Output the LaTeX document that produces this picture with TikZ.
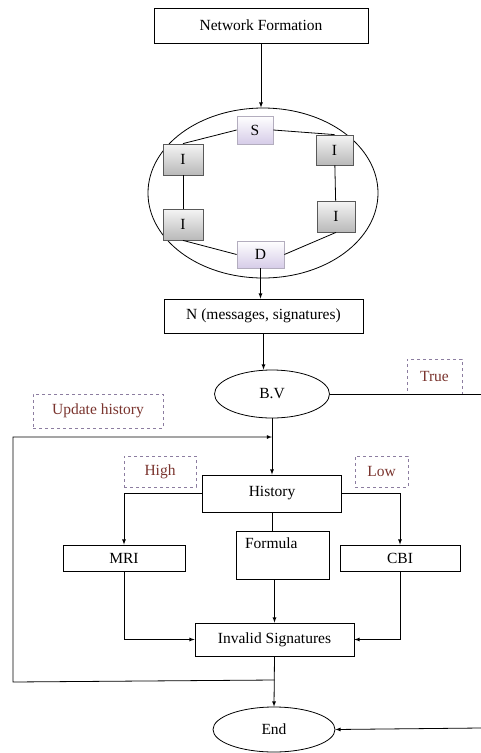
\documentclass[tikz,border=0pt]{standalone}
\usepackage{fontspec}
\setmainfont{Liberation Serif}
\usetikzlibrary{shapes.geometric}
\definecolor{notecol}{RGB}{122,52,46}
\definecolor{dashcol}{RGB}{140,125,160}
\definecolor{lavender}{RGB}{214,204,232}

\begin{document}
\begin{tikzpicture}[x=1pt,y=-1pt,line width=0.8pt,>=latex,
  font=\fontsize{15.5}{18}\selectfont,
  box/.style={draw,rectangle,inner sep=0pt},
  gbox/.style={draw,rectangle,inner sep=0pt,top color=gray!8,bottom color=gray!55,draw=gray!70!black},
  pbox/.style={draw,rectangle,inner sep=0pt,top color=white,bottom color=lavender,draw=lavender!60!gray},
  note/.style={draw=dashcol,dashed,rectangle,inner sep=0pt,text=notecol}]
\useasboundingbox (0,0) rectangle (481,753);
% top
\node[box,minimum width=214,minimum height=35] (net) at (261,25.5) {Network Formation};
\node[draw,ellipse,minimum width=230,minimum height=170] (cloud) at (263,193) {};
\node[pbox,minimum width=36,minimum height=28] (s) at (255,130) {S};
\node[gbox,minimum width=40,minimum height=31] (i1) at (183,159.5) {I};
\node[gbox,minimum width=37,minimum height=30] (i2) at (334.5,150) {I};
\node[gbox,minimum width=40,minimum height=31] (i3) at (183,224.5) {I};
\node[gbox,minimum width=38,minimum height=31] (i4) at (336,216.5) {I};
\node[pbox,minimum width=47,minimum height=27] (d) at (260.5,254.5) {D};
\path[draw,-] (s.west) -- (i1.north);
\path[draw,-] (s.east) -- (i2.north);
\path[draw,-] (i1) -- (i3);
\path[draw,-] (i2) -- (i4);
\path[draw,-] (i3.south) -- (d.west);
\path[draw,-] (i4.south) -- (d.east);
\path[draw,->] (net.south) -- (net.south |- cloud.north);
% middle
\node[box,minimum width=199,minimum height=34] (n) at (263.5,316) {N (messages, signatures)};
\node[draw,ellipse,minimum width=115,minimum height=48] (bv) at (272,394) {B.V};
\node[note,minimum width=55,minimum height=35] (true) at (434.5,376.5) {True};
\node[note,minimum width=130,minimum height=34] (upd) at (98,411) {Update history};
\node[note,minimum width=72,minimum height=31] (high) at (160,471.5) {High};
\node[note,minimum width=53,minimum height=31] (low) at (381.5,471.5) {Low};
\path[draw,->] (d.south) -- (d.south |- n.north);
\path[draw,->] (n.south) -- (n.south |- bv.north);
\coordinate (tr) at (481,394);
\path[draw,-] (bv.east) -- (tr);
% history
\node[box,minimum width=139,minimum height=37] (hist) at (272,493.5) {History};
\node[box,minimum width=122,minimum height=26] (mri) at (124,558) {MRI};
\node[box,minimum width=93,minimum height=48,
  label={[anchor=north west,inner sep=0pt,xshift=9pt,yshift=-7pt]north west:Formula}] (form) at (282.5,555) {};
\node[box,minimum width=120,minimum height=26] (cbi) at (400,558) {CBI};
\path[draw,->] (bv) -- (hist);
\path[draw,->] (hist.west) -| (mri.north);
\path[draw,->] (hist.east) -| (cbi.north);
\path[draw,-] (hist.south) -- (hist.south |- form.north);
% bottom
\node[box,minimum width=159,minimum height=33] (inv) at (274.5,639.5) {Invalid Signatures};
\node[draw,ellipse,minimum width=122,minimum height=45] (end) at (274,729.5) {End};
\path[draw,->] (inv.north |- form.south) -- (inv.north);
\path[draw,->] (mri.south) |- (inv.west);
\path[draw,->] (cbi.south) |- (inv.east);
\path[draw,->] (inv.south) -- (end.north);
\coordinate (br) at (481,728);
\path[draw,->] (br) -- (end.east);
% loop back
\coordinate (jb) at (274.5,680);
\coordinate (ll) at (13,682);
\coordinate (ul) at (13,437);
\coordinate (jt) at (272,437);
\path[draw,->] (jb) -- (ll) -- (ul) -- (jt);
\end{tikzpicture}
\end{document}
